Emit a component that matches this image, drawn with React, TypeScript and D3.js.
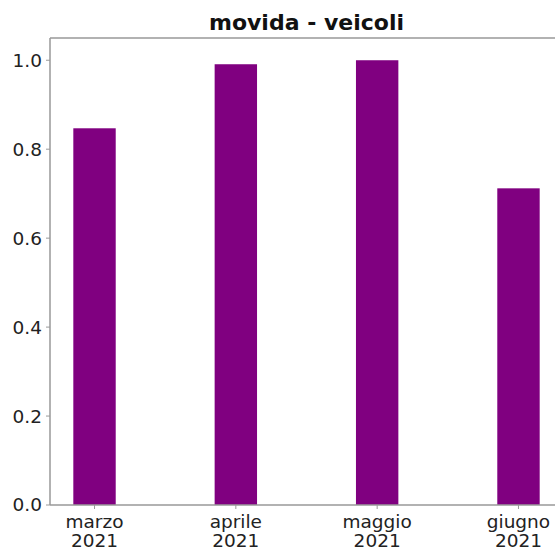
import React from "react";
import * as d3 from "d3";

const categories = ["marzo\n2021", "aprile\n2021", "maggio\n2021", "giugno\n2021"];
const values = [0.847, 0.991, 1.0, 0.712];
const yTicks = [0.0, 0.2, 0.4, 0.6, 0.8, 1.0];
const title = "movida - veicoli";

export default function App() {
  const W = 555, H = 548;
  const left = 50, right = 563, top = 38, bottom = 505;
  const barW = 0.3;
  const x = d3.scaleLinear().domain([-0.315, 3.315]).range([left, right]);
  const y = d3.scaleLinear().domain([0, 1.05]).range([bottom, top]);
  const font = "DejaVu Sans, sans-serif";
  const axisColor = "#999";
  return (
    <svg width={W} height={H} style={{ position: "absolute", left: 0, top: 0, background: "#fff" }}>
      {values.map((v, i) => (
        <rect key={i} x={x(i - barW / 2)} y={y(v)} width={x(barW) - x(0)} height={y(0) - y(v)}
          fill="#800080" />
      ))}
      <line x1={left} x2={left} y1={top} y2={bottom} stroke={axisColor} strokeWidth={1.5} />
      <line x1={left} x2={right} y1={top} y2={top} stroke={axisColor} strokeWidth={1.5} />
      <line x1={left} x2={right} y1={bottom} y2={bottom} stroke={axisColor} strokeWidth={1.5} />
      {yTicks.map((t) => (
        <g key={t}>
          <line x1={left - 4} x2={left} y1={y(t)} y2={y(t)} stroke={axisColor} strokeWidth={1} />
          <text x={left - 8} y={y(t)} dy="0.35em" textAnchor="end" fontFamily={font} fontSize={18.5} fill="#222">
            {t.toFixed(1)}
          </text>
        </g>
      ))}
      {categories.map((c, i) => (
        <g key={c}>
          <line x1={x(i)} x2={x(i)} y1={bottom} y2={bottom + 4} stroke={axisColor} strokeWidth={1} />
          {c.split("\n").map((s, j) => (
            <text key={j} x={x(i)} y={bottom + 23 + j * 19} textAnchor="middle" fontFamily={font} fontSize={18.5} fill="#222">
              {s}
            </text>
          ))}
        </g>
      ))}
      <text x={(left + right) / 2} y={30} textAnchor="middle" fontFamily={font} fontWeight="bold" fontSize={22} fill="#111">
        {title}
      </text>
    </svg>
  );
}
